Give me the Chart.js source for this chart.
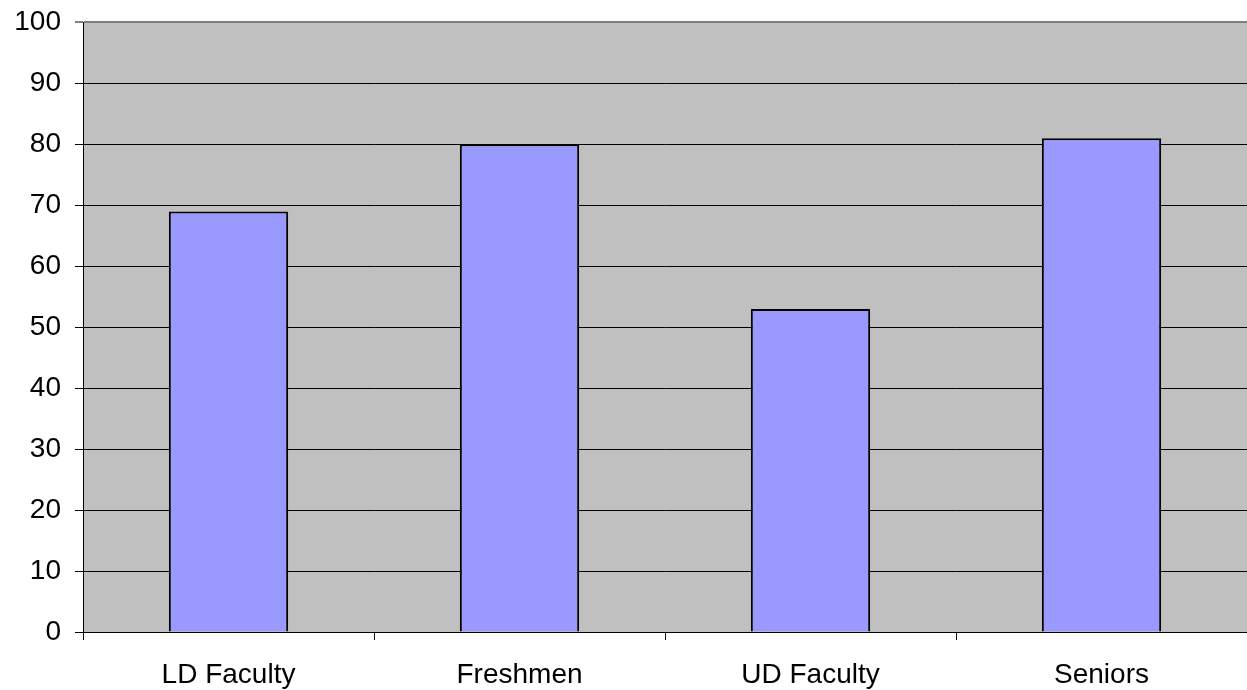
<!DOCTYPE html>
<html>
<head>
<meta charset="utf-8">
<script src="https://cdn.jsdelivr.net/npm/chart.js@4/dist/chart.umd.min.js"></script>
<style>
html,body{margin:0;padding:0;background:#fff;}
#wrap{width:1247px;height:690px;position:relative;}
</style>
</head>
<body>
<div id="wrap"><canvas id="c" width="1247" height="690"></canvas></div>
<script>
const categories = ["LD Faculty", "Freshmen", "UD Faculty", "Seniors"];
const values = [69, 80, 53, 81];
const yTicks = [0, 10, 20, 30, 40, 50, 60, 70, 80, 90, 100];

const plotBg = {
  id: 'plotBg',
  beforeDraw(chart) {
    const a = chart.chartArea, ctx = chart.ctx;
    ctx.save();
    ctx.fillStyle = '#C0C0C0';
    ctx.fillRect(a.left, a.top, a.right - a.left, a.bottom - a.top);
    ctx.restore();
  }
};

new Chart(document.getElementById('c'), {
  type: 'bar',
  data: {
    labels: categories,
    datasets: [{
      data: values,
      backgroundColor: '#9999FF',
      borderColor: '#000000',
      borderWidth: 2,
      categoryPercentage: 1,
      barPercentage: 0.41
    }]
  },
  options: {
    responsive: false,
    animation: false,
    layout: { padding: { top: 22, right: 0, left: 0, bottom: 0 } },
    plugins: { legend: { display: false }, tooltip: { enabled: false } },
    scales: {
      x: {
        offset: true,
        grid: { offset: true, drawOnChartArea: false, drawTicks: true, tickLength: 8, color: '#000' },
        border: { color: '#000', width: 1 },
        ticks: { color: '#000', font: { family: 'Liberation Sans, Arial', size: 28 }, padding: 18 },
        afterFit(s) { s.height = 58; }
      },
      y: {
        min: 0, max: 100,
        afterBuildTicks(s) { s.ticks = yTicks.map(v => ({ value: v })); },
        grid: {
          color: ctx => (ctx.tick && ctx.tick.value === 100) ? '#808080' : '#000',
          lineWidth: ctx => (ctx.tick && ctx.tick.value === 100) ? 2 : 1,
          tickLength: 8, drawTicks: true
        },
        border: { color: '#000', width: 1 },
        ticks: { color: '#000', font: { family: 'Liberation Sans, Arial', size: 28, lineHeight: 0.6 }, padding: 14 },
        afterFit(s) { s.width = 83; }
      }
    }
  },
  plugins: [plotBg]
});
</script>
</body>
</html>
